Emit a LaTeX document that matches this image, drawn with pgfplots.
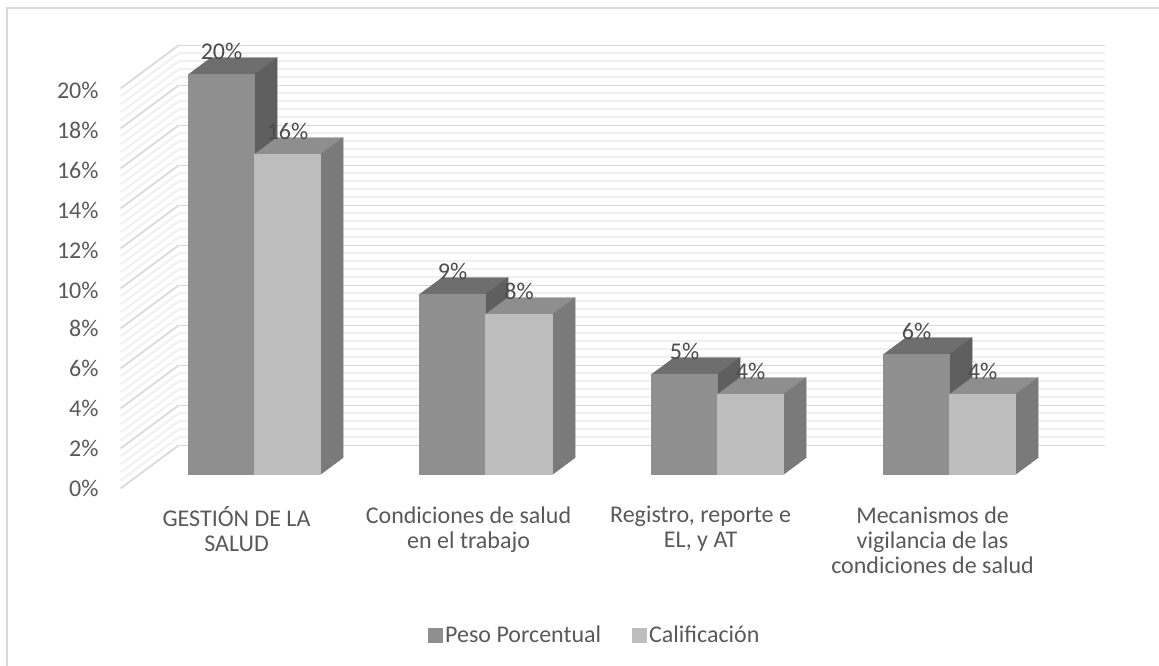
\documentclass[border=0pt]{standalone}
\usepackage{pgfplots}
\pgfplotsset{compat=1.18}
\usepackage{fontspec}
\setmainfont{Carlito}
\definecolor{txt}{HTML}{595959}
\definecolor{frontA}{HTML}{8F8F8F}
\definecolor{sideA}{HTML}{5F5F5F}
\definecolor{topA}{HTML}{6E6E6E}
\definecolor{frontB}{HTML}{BDBDBD}
\definecolor{sideB}{HTML}{7A7A7A}
\definecolor{topB}{HTML}{8E8E8E}
\newcommand{\barbox}[6]{%
 \addplot3[fill=#5,draw=#5,line width=0.3pt,forget plot] coordinates {(#2,0.326,#3)(#2,0.714,#3)(#1,0.714,#3)(#1,0.326,#3)} -- cycle;
 \addplot3[fill=#6,draw=#6,line width=0.3pt,forget plot] coordinates {(#2,0.326,0)(#2,0.714,0)(#2,0.714,#3)(#2,0.326,#3)} -- cycle;
 \addplot3[fill=#4,draw=#4,line width=0.3pt,forget plot] coordinates {(#1,0.326,0)(#2,0.326,0)(#2,0.326,#3)(#1,0.326,#3)} -- cycle;
}
\begin{document}
\begin{tikzpicture}[x=0.75pt,y=0.75pt]
\path[use as bounding box] (0,0) rectangle (1159,666);
\draw[color=black!15,line width=1.5pt] (7,-2) -- (7,658) -- (1165,658);
\begin{axis}[
 at={(-119,413)},anchor=origin,
 x={(0.75pt,0pt)},y={(43.5pt,32.25pt)},z={(0pt,15pt)},
 xmin=0,xmax=926,ymin=0,ymax=1,zmin=0,zmax=20,
 clip=false,
 axis line style={draw=none},
 major tick length=0pt,minor tick length=0pt,
 tick style={draw=none},
 xtick={116,348,580,812},
 xticklabels={{GESTIÓN DE LA\\SALUD},{Condiciones de salud\\en el trabajo},{Registro, reporte e\\EL, y AT},{Mecanismos de\\vigilancia de las\\condiciones de salud}},
 ytick=\empty,
 ztick={0,2,...,20},
 zticklabels={0\%,2\%,4\%,6\%,8\%,10\%,12\%,14\%,16\%,18\%,20\%},
 minor z tick num=4,
 zmajorgrids=true,zminorgrids=true,
 xmajorgrids=false,ymajorgrids=false,
 major z grid style={color=black!15,line width=1.3pt},
 minor z grid style={color=black!6,line width=1.5pt},
 x tick label style={font=\fontsize{18}{18.75}\selectfont,text=txt,align=center,anchor=north,yshift=-10pt},
 z tick label style={font=\fontsize{18}{18}\selectfont,text=txt,xshift=-13pt,yshift=5pt},
 legend style={at={(axis cs:474.5,0,-7.35)},anchor=center,draw=none,fill=none,font=\fontsize{18}{18}\selectfont,text=txt,legend columns=2,/tikz/every even column/.append style={column sep=21pt}},
 legend cell align=left,
 legend image code/.code={\fill[#1] (-5pt,-5pt) rectangle (5.5pt,5.5pt);},
]
\addlegendimage{frontA,fill=frontA}\addlegendentry{Peso Porcentual}
\addlegendimage{frontB,fill=frontB}\addlegendentry{Calificación}
% x0 x1 value front top side
\barbox{49.1}{115.1}{20}{frontA}{topA}{sideA}
\barbox{115.1}{181.1}{16}{frontB}{topB}{sideB}
\barbox{280.1}{346.1}{9}{frontA}{topA}{sideA}
\barbox{346.1}{413.1}{8}{frontB}{topB}{sideB}
\barbox{512.1}{578.1}{5}{frontA}{topA}{sideA}
\barbox{578.1}{644.1}{4}{frontB}{topB}{sideB}
\barbox{744.1}{810.1}{6}{frontA}{topA}{sideA}
\barbox{810.1}{876.1}{4}{frontB}{topB}{sideB}
% data labels
\addplot3[draw=none,mark=none,forget plot,point meta=z,
 nodes near coords={\pgfmathprintnumber[assume math mode=true]{\pgfplotspointmeta}\%},
 every node near coord/.append style={font=\fontsize{18}{18}\selectfont,text=txt!85!black,anchor=center,yshift=17pt}]
 coordinates {(82.1,0.326,20)(148.1,0.326,16)(313.1,0.326,9)(379.6,0.326,8)(545.1,0.326,5)(611.1,0.326,4)(777.1,0.326,6)(843.1,0.326,4)};
\end{axis}
\end{tikzpicture}
\end{document}
